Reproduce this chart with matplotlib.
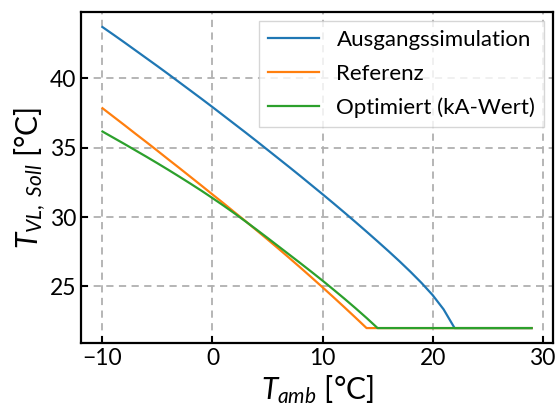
import matplotlib
matplotlib.use('Agg')
import matplotlib.pyplot as plt

# Außentemperatur [°C]
t_amb = list(range(-10, 30))

# Vorlauf-Solltemperaturen [°C], ab Erreichen von 22 °C konstant
ausgang = [43.70, 43.15, 42.59, 42.02, 41.45, 40.88, 40.30, 39.71, 39.12, 38.53,
           37.93, 37.32, 36.71, 36.10, 35.48, 34.85, 34.22, 33.59, 32.95, 32.30,
           31.65, 30.99, 30.32, 29.64, 28.95, 28.25, 27.54, 26.81, 26.05, 25.25,
           24.38, 23.35, 22.00]
referenz = [37.85, 37.24, 36.63, 36.01, 35.40, 34.78, 34.15, 33.53, 32.90, 32.27,
            31.63, 31.00, 30.35, 29.71, 29.05, 28.39, 27.72, 27.04, 26.35, 25.65,
            24.94, 24.22, 23.49, 22.75, 22.00]
optimiert = [36.17, 35.72, 35.27, 34.81, 34.35, 33.88, 33.40, 32.91, 32.41, 31.90,
             31.37, 30.83, 30.27, 29.69, 29.10, 28.50, 27.89, 27.28, 26.67, 26.05,
             25.42, 24.77, 24.11, 23.43, 22.73, 22.00]
t_min = 22.0

def auffuellen(werte):
    return werte + [t_min] * (len(t_amb) - len(werte))

plt.rcParams['font.family'] = ['Lato', 'DejaVu Sans']
plt.rcParams['mathtext.fontset'] = 'custom'
plt.rcParams['mathtext.rm'] = 'Lato'
plt.rcParams['mathtext.it'] = 'Lato:italic'

fig = plt.figure(figsize=(5.57, 4.08), dpi=100)
ax = fig.add_axes([0.1454, 0.159, 0.8476, 0.8116])

ax.plot(t_amb, auffuellen(ausgang), color='tab:blue', lw=1.6, label='Ausgangssimulation')
ax.plot(t_amb, auffuellen(referenz), color='tab:orange', lw=1.6, label='Referenz')
ax.plot(t_amb, auffuellen(optimiert), color='tab:green', lw=1.6, label='Optimiert (kA-Wert)')

ax.set_xticks([-10, 0, 10, 20, 30])
ax.set_yticks([25, 30, 35, 40])
ax.grid(True, color='#b0b0b0', linestyle=(0, (4, 3)), linewidth=1.3)
ax.tick_params(direction='in', length=5, width=1.5, labelsize=16.5)
for sp in ax.spines.values():
    sp.set_linewidth(1.6)

ax.set_xlabel('$T_{amb}$ [°C]', fontsize=21.5, labelpad=3)
ax.set_ylabel('$T_{VL,\\ Soll}$ [°C]', fontsize=21.5, labelpad=1)

ax.legend(loc='upper right', fancybox=False, edgecolor='0.8', fontsize=16,
          handlelength=2.3, labelspacing=0.62, borderaxespad=0.4)

fig.savefig('out.png', dpi=100)
